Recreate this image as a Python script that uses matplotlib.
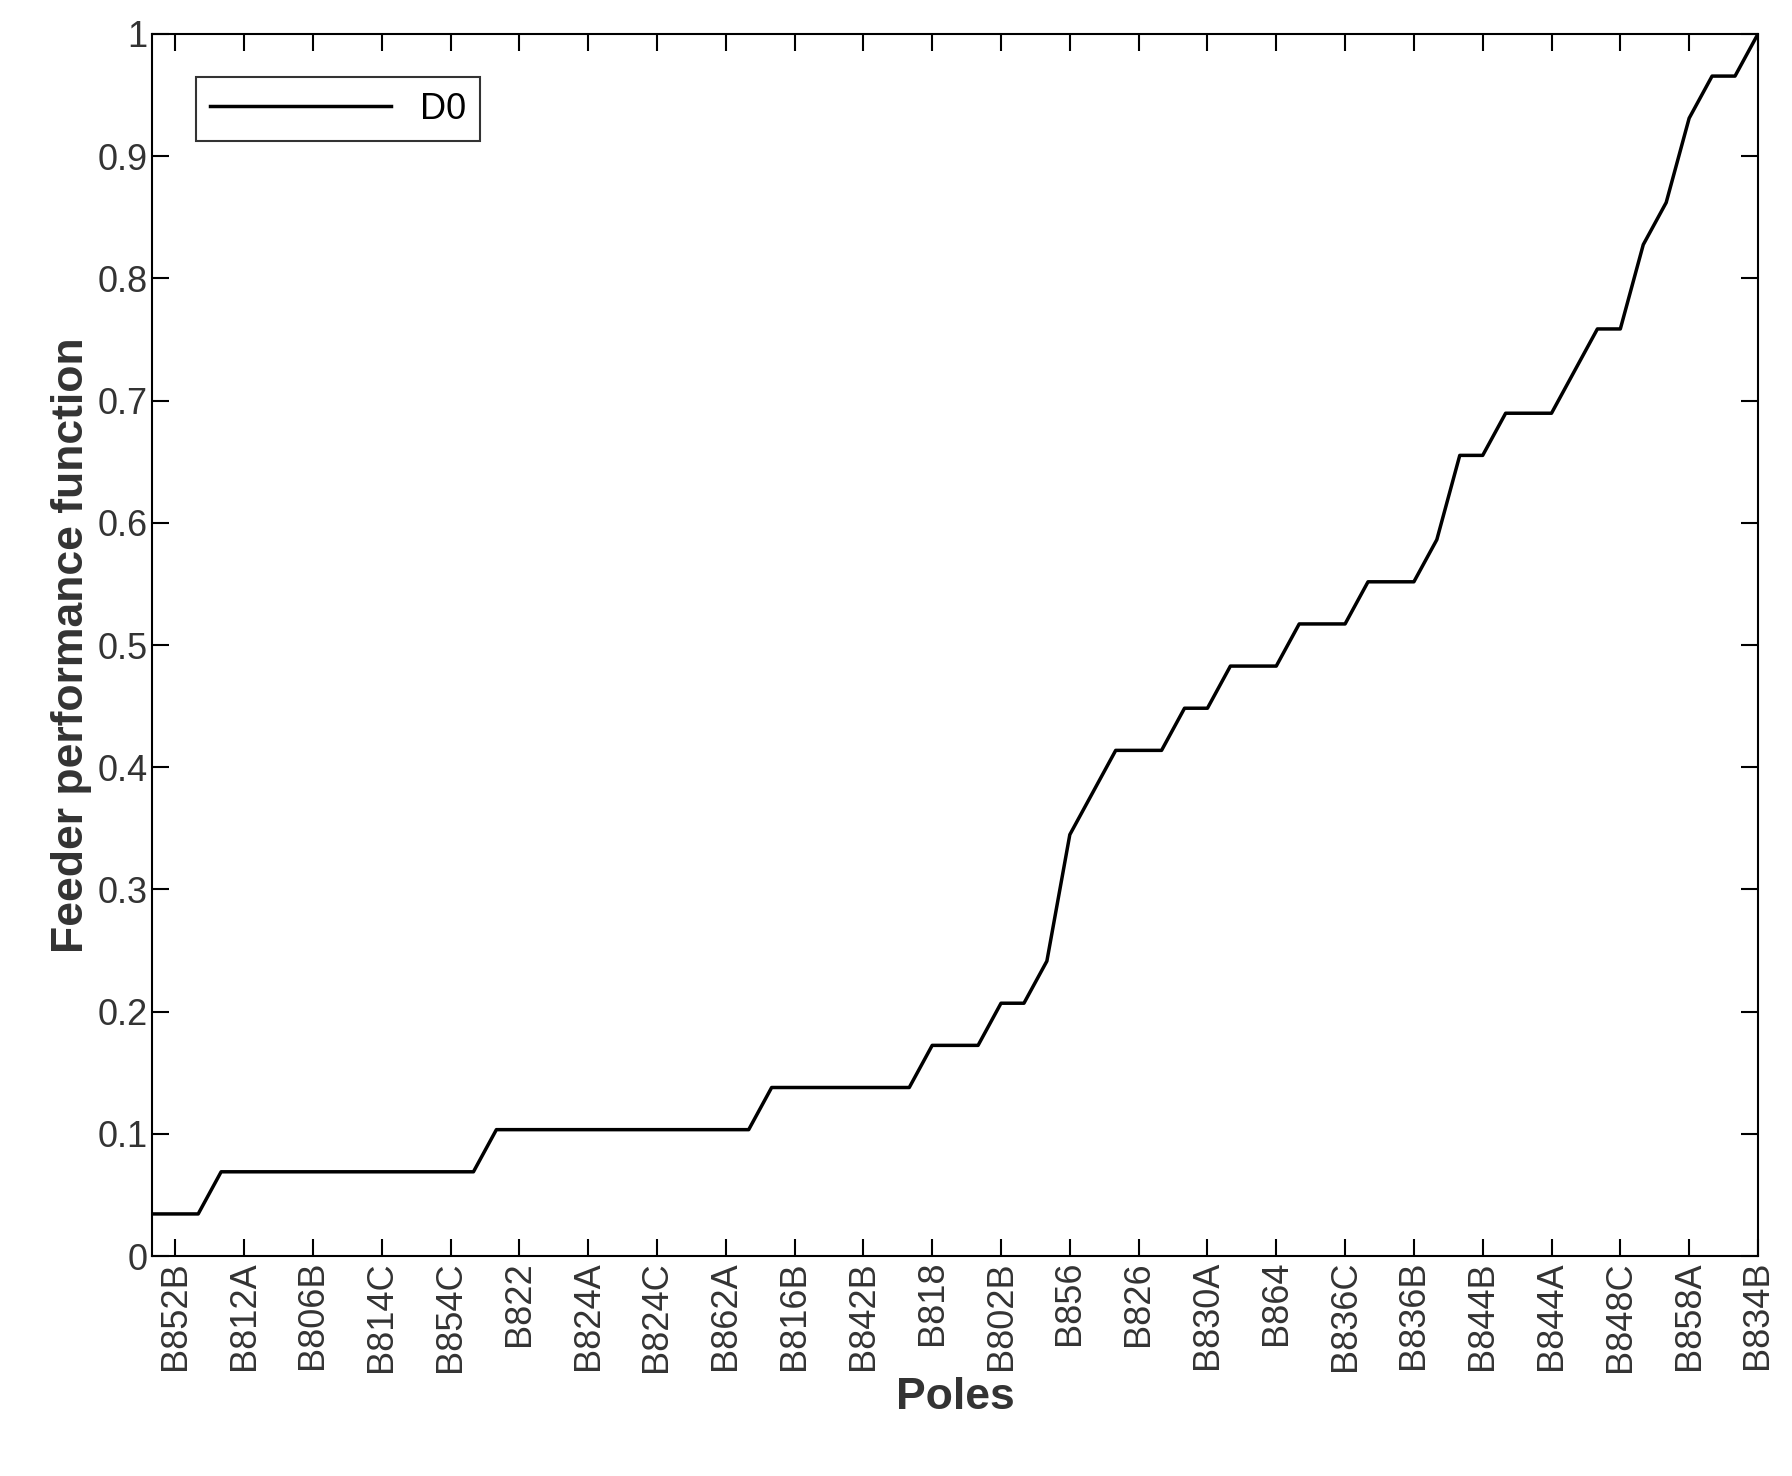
import matplotlib.pyplot as plt
import numpy as np

plt.rcParams['font.family'] = ['Liberation Sans', 'DejaVu Sans']

# feeder performance in steps of 1/29, one value per pole position 0..70
steps = [1, 1, 1] + [2] * 12 + [3] * 12 + [4] * 7 + [5] * 3 + [6] * 2 + [7, 10, 11] \
    + [12] * 3 + [13] * 2 + [14] * 3 + [15] * 3 + [16] * 3 + [17, 19, 19] + [20] * 3 \
    + [21, 22, 22, 24, 25, 27, 28, 28, 29]
y = np.array(steps) / 29.0
x = np.arange(len(y))

tick_pos = list(range(1, 68, 3)) + [70]
tick_labels = ['B852B', 'B812A', 'B806B', 'B814C', 'B854C', 'B822', 'B824A', 'B824C',
               'B862A', 'B816B', 'B842B', 'B818', 'B802B', 'B856', 'B826', 'B830A',
               'B864', 'B836C', 'B836B', 'B844B', 'B844A', 'B848C', 'B858A', 'B834B']

fig = plt.figure(figsize=(17.92, 14.76), dpi=100)
ax = fig.add_axes([0.085, 0.149, 0.896, 0.828])
ax.plot(x, y, color='black', linewidth=2.5, label='D0')
ax.set_xlim(0, 70)
ax.set_ylim(0, 1)
ax.set_xticks(tick_pos)
ax.set_xticklabels(tick_labels, rotation=90, fontsize=26, color='#333333')
ax.set_yticks(np.arange(0, 1.01, 0.1))
ax.set_yticklabels(['0'] + [f'{v:.1f}' for v in np.arange(0.1, 0.95, 0.1)] + ['1'],
                   fontsize=26, color='#333333')
ax.tick_params(direction='in', length=12, width=1.5, top=True, right=True)
for s in ax.spines.values():
    s.set_linewidth(1.5)
ax.set_xlabel('Poles', fontsize=32, fontweight='bold', color='#333333')
ax.set_ylabel('Feeder performance function', fontsize=32, fontweight='bold', color='#333333')
ax.legend(loc='upper left', fontsize=26, fancybox=False, edgecolor='black',
          handlelength=5, borderaxespad=1.2).get_frame().set_linewidth(1.5)
plt.savefig('out.png', dpi=100)
